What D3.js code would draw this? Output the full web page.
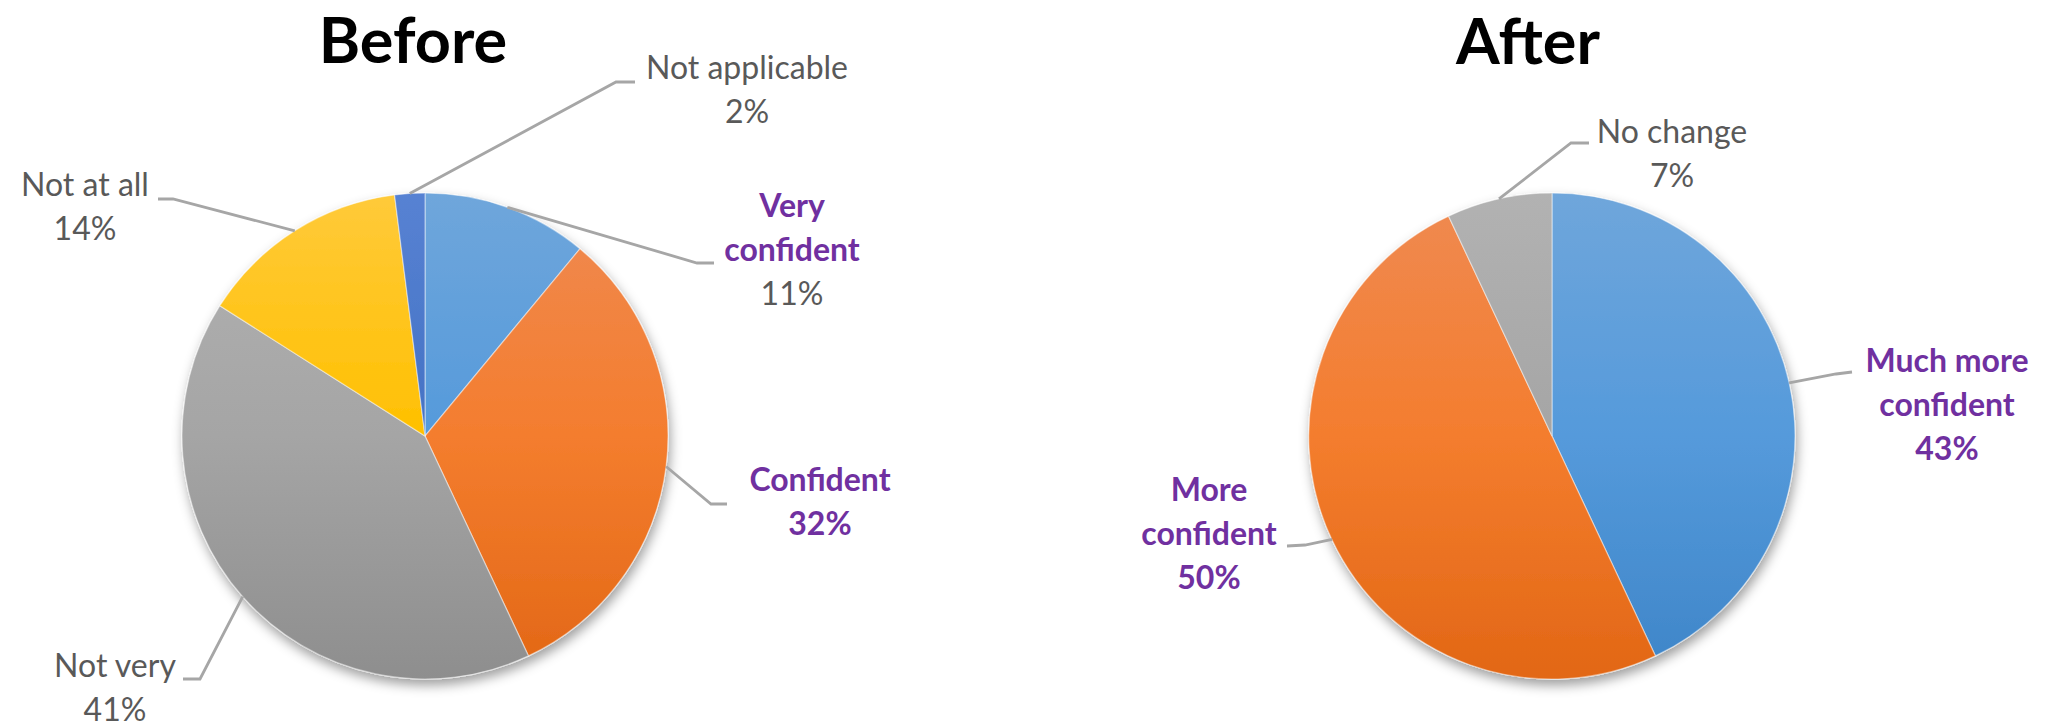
<!DOCTYPE html>
<html>
<head>
<meta charset="utf-8">
<script src="https://cdn.jsdelivr.net/npm/d3@7"></script>
<style>
  html, body { margin: 0; padding: 0; background: #fff; }
  svg { display: block; }
</style>
</head>
<body>
<div id="chart"></div>
<script>
// data
const beforeLabels = ['Very confident', 'Confident', 'Not very', 'Not at all', 'Not applicable'];
const beforeValues = [11, 32, 41, 14, 2];
const beforeNameBold = [true, true, false, false, false];
const beforePctBold = [false, true, false, false, false];

const afterLabels = ['Much more confident', 'More confident', 'No change'];
const afterValues = [43, 50, 7];
const afterNameBold = [true, true, false];
const afterPctBold = [true, true, false];

// colours (top / middle / bottom of the gradient)
const palette = {
  blue:   ['#6fa6db', '#559adb', '#3e85c8'],
  orange: ['#ef8a52', '#f47d2e', '#e26715'],
  gray:   ['#b2b2b2', '#a5a5a5', '#8e8e8e'],
  yellow: ['#ffca3a', '#ffc000', '#ecb300'],
  navy:   ['#5782d3', '#4472c4', '#3963b7']
};
const beforeColors = ['blue', 'orange', 'gray', 'yellow', 'navy'];
const afterColors = ['blue', 'orange', 'gray'];

// layout: text lines, label centre, first baseline, leader elbow and end
const beforeLayout = [
  { lines: ['Very', 'confident'], x: 792, y: 217, elbow: [697, 263], end: [714, 263] },
  { lines: ['Confident'], x: 820, y: 491, elbow: [711, 504], end: [727, 504] },
  { lines: ['Not very'], x: 115, y: 677, elbow: [200, 679], end: [183, 679] },
  { lines: ['Not at all'], x: 85, y: 196, elbow: [173, 199], end: [158, 199] },
  { lines: ['Not applicable'], x: 747, y: 79, elbow: [616, 82], end: [635, 82] }
];
const afterLayout = [
  { lines: ['Much more', 'confident'], x: 1947, y: 372, elbow: [1836, 374], end: [1852, 372] },
  { lines: ['More', 'confident'], x: 1209, y: 501, elbow: [1305, 545], end: [1287, 546] },
  { lines: ['No change'], x: 1672, y: 143, elbow: [1571, 143], end: [1589, 143] }
];

const width = 2054, height = 728;
const radius = 243;
const lineGap = 44;
const purple = '#7030a0';
const labelGray = '#595959';
const font = 'Lato, "Open Sans", sans-serif';

const svg = d3.select('#chart').append('svg')
  .attr('width', width)
  .attr('height', height)
  .attr('viewBox', `0 0 ${width} ${height}`);

const defs = svg.append('defs');

const shadow = defs.append('filter')
  .attr('id', 'pieShadow')
  .attr('x', '-20%').attr('y', '-20%')
  .attr('width', '140%').attr('height', '140%');
shadow.append('feDropShadow')
  .attr('dx', 2).attr('dy', 6)
  .attr('stdDeviation', 6)
  .attr('flood-color', '#000')
  .attr('flood-opacity', 0.38);

// gradients live in the pie group's own space, which is centred on 0,0
Object.keys(palette).forEach(k => {
  const g = defs.append('linearGradient')
    .attr('id', `grad-${k}`)
    .attr('gradientUnits', 'userSpaceOnUse')
    .attr('x1', 0).attr('y1', -radius)
    .attr('x2', 0).attr('y2', radius);
  g.append('stop').attr('offset', '0%').attr('stop-color', palette[k][0]);
  g.append('stop').attr('offset', '50%').attr('stop-color', palette[k][1]);
  g.append('stop').attr('offset', '100%').attr('stop-color', palette[k][2]);
});

function drawPie(cx, cy, title, titleX, titleY, labels, values, colors, nameBold, pctBold, layout) {
  const pie = d3.pie().sort(null).value(d => d.value);
  const arcs = pie(values.map((v, i) => ({ value: v, label: labels[i], i })));
  const arc = d3.arc().innerRadius(0).outerRadius(radius);

  const g = svg.append('g').attr('transform', `translate(${cx},${cy})`);

  g.append('g')
    .attr('filter', 'url(#pieShadow)')
    .selectAll('path')
    .data(arcs)
    .join('path')
    .attr('d', arc)
    .attr('fill', d => `url(#grad-${colors[d.data.i]})`)
    .attr('stroke', 'rgba(255,255,255,0.45)')
    .attr('stroke-width', 1.2);

  // leader lines, from the middle of each slice's rim
  arcs.forEach((d, i) => {
    const L = layout[i];
    const a = (d.startAngle + d.endAngle) / 2;
    const sx = cx + radius * Math.sin(a);
    const sy = cy - radius * Math.cos(a);
    svg.append('path')
      .attr('d', d3.line()([[sx, sy], L.elbow, L.end]))
      .attr('fill', 'none')
      .attr('stroke', '#a6a6a6')
      .attr('stroke-width', 2.8);
  });

  // labels
  arcs.forEach((d, i) => {
    const L = layout[i];
    const t = svg.append('text')
      .attr('text-anchor', 'middle')
      .attr('font-family', font)
      .attr('font-size', 32);
    L.lines.forEach((ln, k) => {
      t.append('tspan')
        .attr('x', L.x)
        .attr('y', L.y + k * lineGap)
        .attr('font-weight', nameBold[i] ? 700 : 400)
        .attr('fill', nameBold[i] ? purple : labelGray)
        .text(ln);
    });
    t.append('tspan')
      .attr('x', L.x)
      .attr('y', L.y + L.lines.length * lineGap)
      .attr('font-weight', pctBold[i] ? 700 : 400)
      .attr('fill', pctBold[i] ? purple : labelGray)
      .text(d3.format('.0f')(d.data.value) + '%');
  });

  svg.append('text')
    .attr('x', titleX)
    .attr('y', titleY)
    .attr('text-anchor', 'middle')
    .attr('font-family', font)
    .attr('font-size', 63)
    .attr('font-weight', 700)
    .attr('fill', '#000')
    .text(title);
}

drawPie(425, 436, 'Before', 413, 63, beforeLabels, beforeValues, beforeColors, beforeNameBold, beforePctBold, beforeLayout);
drawPie(1552, 436, 'After', 1528, 64, afterLabels, afterValues, afterColors, afterNameBold, afterPctBold, afterLayout);
</script>
</body>
</html>
